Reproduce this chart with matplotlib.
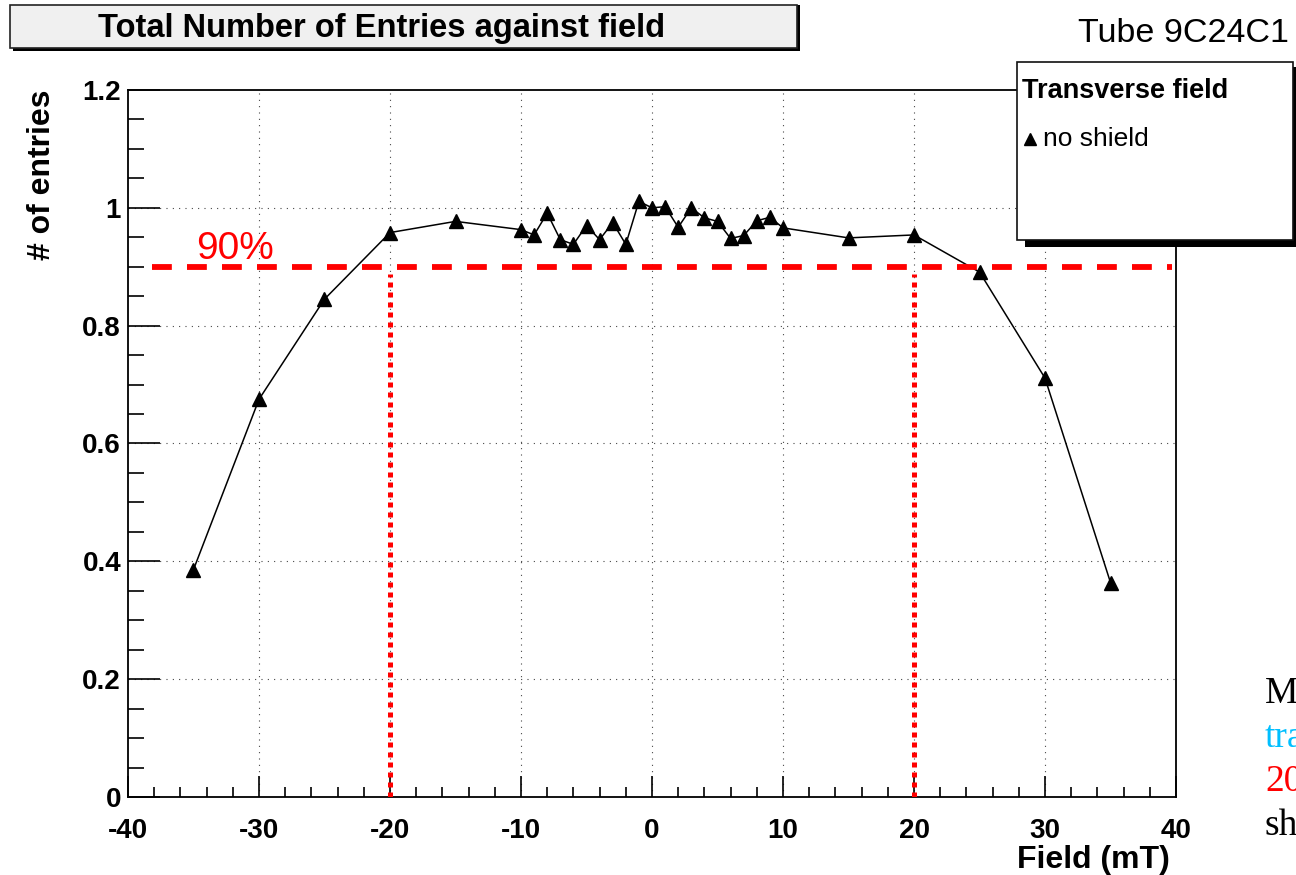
import matplotlib
matplotlib.use("Agg")
import matplotlib.pyplot as plt
from matplotlib.patches import Rectangle
from matplotlib.lines import Line2D
from matplotlib.ticker import MultipleLocator, FuncFormatter

plt.rcParams['font.family'] = ['Liberation Sans', 'DejaVu Sans']

# measured entries (normalised) against transverse field
field = [-35, -30, -25, -20, -15, -10, -9, -8, -7, -6, -5, -4, -3, -2, -1,
         0, 1, 2, 3, 4, 5, 6, 7, 8, 9, 10, 15, 20, 25, 30, 35]
entries = [0.386, 0.675, 0.845, 0.958, 0.977, 0.963, 0.954, 0.991, 0.946,
           0.938, 0.970, 0.946, 0.975, 0.938, 1.011, 1.000, 1.002, 0.967,
           1.000, 0.983, 0.977, 0.948, 0.953, 0.978, 0.984, 0.966, 0.949,
           0.954, 0.891, 0.711, 0.364]

threshold = 0.9
threshold_span = [-38.2, 39.7]
limits_x = [-20, 20]

W, H = 1296, 875


def fx(px):
    return px / W


def fy(py):
    return 1 - py / H


fig = plt.figure(figsize=(W / 100, H / 100), dpi=100)
fig.patch.set_facecolor("white")
ax = fig.add_axes([fx(128), fy(797), 1048 / W, 707 / H])

ax.set_xlim(-40, 40)
ax.set_ylim(0, 1.2)

# dotted grid at major ticks
for gx in range(-30, 40, 10):
    ax.axvline(gx, color="#333333", lw=0.8, ls=(0, (0.9, 4.8)), zorder=1)
for gy in [0.2, 0.4, 0.6, 0.8, 1.0]:
    ax.axhline(gy, color="#333333", lw=0.8, ls=(0, (0.9, 4.8)), zorder=1)

ax.plot(field, entries, color="black", lw=1.1, marker="^", markersize=9.5,
        markerfacecolor="black", markeredgecolor="black", zorder=3)

# 90% threshold and limit lines
ax.plot(threshold_span, [threshold, threshold], color="#ff0000", lw=4.2,
        ls=(0, (3.4, 2.6)), zorder=4)
for lx in limits_x:
    ax.plot([lx, lx], [0, threshold - 0.012], color="#ff0000", lw=3.6,
            ls=(0, (1, 1)), zorder=4)
ax.text(-34.8, 0.913, "90%", color="#ff0000", fontsize=28, va="baseline",
        ha="left", zorder=5)

# axes frame and ticks, ROOT style
for sp in ax.spines.values():
    sp.set_linewidth(1.3)
ax.xaxis.set_major_locator(MultipleLocator(10))
ax.xaxis.set_minor_locator(MultipleLocator(2))
ax.yaxis.set_major_locator(MultipleLocator(0.2))
ax.yaxis.set_minor_locator(MultipleLocator(0.05))
fmt = FuncFormatter(lambda v, p: "%g" % round(v, 3))
ax.xaxis.set_major_formatter(fmt)
ax.yaxis.set_major_formatter(fmt)
ax.tick_params(axis="x", which="major", direction="in", length=15, width=1.2,
               pad=15, top=False)
ax.tick_params(axis="x", which="minor", direction="in", length=7.5,
               width=1.2, top=False)
ax.tick_params(axis="y", which="major", direction="in", length=23, width=1.2,
               pad=5, right=False)
ax.tick_params(axis="y", which="minor", direction="in", length=11.5,
               width=1.2, right=False)
for lab in ax.get_xticklabels() + ax.get_yticklabels():
    lab.set_fontsize(20)
    lab.set_fontweight("bold")

fig.text(fx(1170), fy(868), "Field (mT)", fontsize=23, fontweight="bold",
         ha="right", va="baseline")
fig.text(fx(42), fy(90), "# of entries", fontsize=23, fontweight="bold",
         rotation=90, ha="center", va="top")

# title box with shadow
fig.patches.append(Rectangle((fx(13), fy(51)), fx(787), 46 / H, transform=fig.transFigure,
                             facecolor="black", edgecolor="none", zorder=1))
fig.patches.append(Rectangle((fx(10), fy(48)), fx(787), 43 / H, transform=fig.transFigure,
                             facecolor="#f0f0f0", edgecolor="#222222", lw=1.2, zorder=2))
fig.text(fx(382), fy(37), "Total Number of Entries against field", fontsize=23.5,
         fontweight="bold", ha="center", va="baseline", zorder=3)

fig.text(fx(1078), fy(42), "Tube 9C24C1", fontsize=24.5, ha="left", va="baseline")

# legend box with shadow
fig.patches.append(Rectangle((fx(1025), fy(247)), fx(280), 180 / H, transform=fig.transFigure,
                             facecolor="black", edgecolor="none", zorder=1))
fig.patches.append(Rectangle((fx(1017), fy(240)), fx(276), 178 / H, transform=fig.transFigure,
                             facecolor="white", edgecolor="#111111", lw=1.2, zorder=2))
fig.text(fx(1022), fy(98), "Transverse field", fontsize=19.5, fontweight="bold",
         ha="left", va="baseline", zorder=3)
fig.add_artist(Line2D([fx(1030)], [fy(139)], marker="^", markersize=8.5, color="black",
                      transform=fig.transFigure, zorder=3))
fig.text(fx(1043), fy(146), "no shield", fontsize=19, ha="left", va="baseline", zorder=3)

# slide text cut off at the right edge
side_lines = [("M", "black"), ("tra", "#00bfff"), ("20", "#ff0000"), ("sh", "black")]
for i, (txt, col) in enumerate(side_lines):
    fig.text(fx(1265), fy(703 + 44 * i), txt, fontsize=27, color=col,
             family=["Liberation Serif", "DejaVu Serif"], ha="left", va="baseline")

fig.savefig("out.png", dpi=100, facecolor="white")
